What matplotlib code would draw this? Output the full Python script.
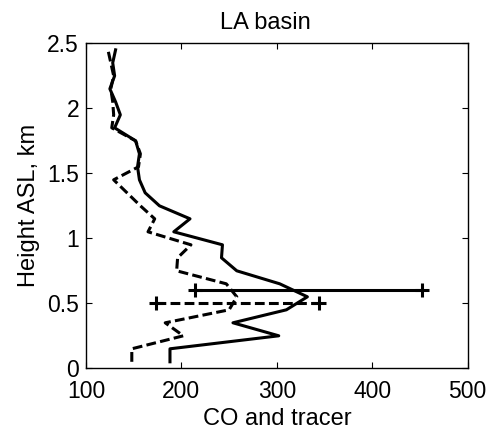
import numpy as np
import matplotlib.pyplot as plt

plt.rcParams['font.family'] = ['Liberation Sans', 'DejaVu Sans']

# Profile data (height ASL in km, concentrations)
height = [0.05, 0.15, 0.25, 0.35, 0.45, 0.55, 0.65, 0.75, 0.85, 0.95,
          1.05, 1.15, 1.25, 1.35, 1.45, 1.55, 1.65, 1.75, 1.85, 1.95,
          2.05, 2.15, 2.25, 2.35, 2.45]
co = [188, 188, 302, 254, 310, 332, 303, 258, 242, 243,
      192, 209, 177, 162, 156, 154, 156, 152, 130, 136,
      131, 125, 130, 128, 131]
tracer = [148, 148, 202, 183, 250, 258, 247, 195, 196, 210,
          165, 172, 157, 143, 129, 155, 157, 152, 127, 129,
          128, 126, 129, 126, 123]

# spread bars (height, low, high)
co_bar_y = 0.6
co_bar = [214, 452]
tracer_bar_y = 0.5
tracer_bar = [173, 344]

xticks = [100, 200, 300, 400, 500]
yticks = [0, 0.5, 1, 1.5, 2, 2.5]
ytick_labels = ['0', '0.5', '1', '1.5', '2', '2.5']

fig = plt.figure(figsize=(4.9, 4.29), dpi=100)
ax = fig.add_axes([0.1755, 0.1415, 0.779, 0.7575])

dash = (0, (3.2, 1.4))
ax.plot(co, height, color='black', lw=2.2)
ax.plot(tracer, height, color='black', lw=2.2, linestyle=dash)
ax.plot(co_bar, [co_bar_y, co_bar_y], color='black', lw=2.2,
        marker='+', markersize=10, mew=2.2)
ax.plot(tracer_bar, [tracer_bar_y, tracer_bar_y], color='black', lw=2.2,
        linestyle=dash, marker='+', markersize=10, mew=2.2)

ax.set_xlim(100, 500)
ax.set_ylim(0, 2.5)
ax.set_xticks(xticks)
ax.set_yticks(yticks)
ax.set_yticklabels(ytick_labels)
ax.tick_params(direction='in', top=True, right=True, length=4, width=0.8,
               labelsize=16.5)
ax.tick_params(axis='x', pad=8.5)
ax.tick_params(axis='y', pad=5)
for s in ax.spines.values():
    s.set_linewidth(1.0)

ax.set_title('LA basin', fontsize=17, x=0.47, pad=10)
ax.set_xlabel('CO and tracer', fontsize=17, labelpad=3.5)
ax.set_ylabel('Height ASL, km', fontsize=17, labelpad=5)

fig.savefig('out.png', dpi=100)
